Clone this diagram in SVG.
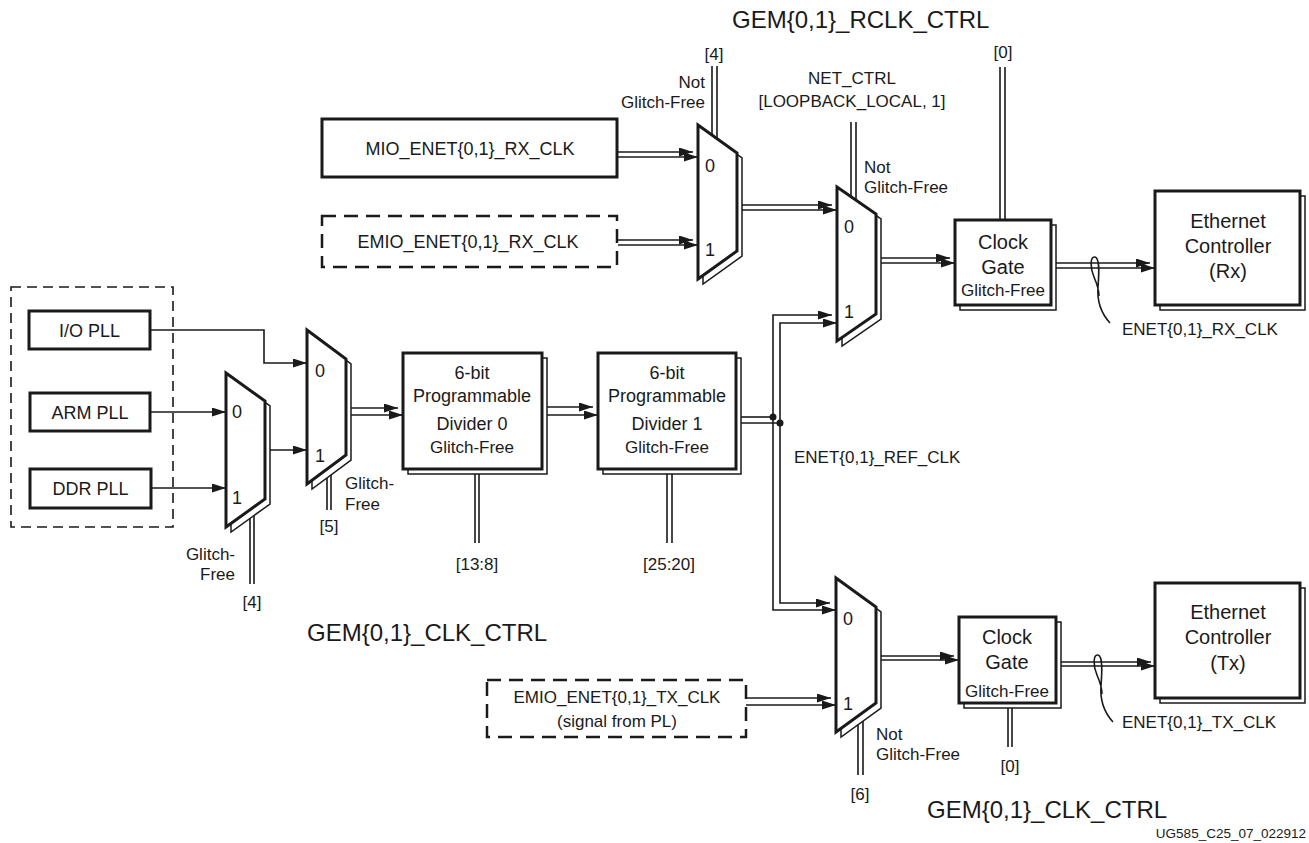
<svg xmlns="http://www.w3.org/2000/svg" width="1309" height="843" viewBox="0 0 1309 843">
<defs>
<marker id="ah" markerUnits="userSpaceOnUse" markerWidth="16" markerHeight="10" refX="14" refY="4.5" orient="auto"><path d="M0,0 L14,4.5 L0,9 z" fill="#1a1a1a"/></marker>
</defs>
<style>
.box{fill:#fff;stroke:#1a1a1a;stroke-width:3}
.sh{fill:#fff;stroke:#1a1a1a;stroke-width:1.5}
.dash{fill:none;stroke:#1a1a1a;stroke-width:2.5;stroke-dasharray:14 8}
.dash2{fill:none;stroke:#1a1a1a;stroke-width:1.6;stroke-dasharray:10 6}
.w{fill:none;stroke:#1a1a1a;stroke-width:1.6}
.wa{fill:none;stroke:#1a1a1a;stroke-width:1.6;marker-end:url(#ah)}
text{font-family:"Liberation Sans",Arial,sans-serif;fill:#1a1a1a}
.t18{font-size:18px}
.t17{font-size:17px}
.t20{font-size:20px}
.t24{font-size:24px}
.t13{font-size:13.5px}
.m{text-anchor:middle}
.e{text-anchor:end}
</style>
<rect width="1309" height="843" fill="#fff"/>

<g id="connectors">
  <!-- PLL inputs -->
  <path class="wa" d="M150,330 H264 V363 H307"/>
  <path class="wa" d="M150,412 H226"/>
  <path class="wa" d="M151,488 H226"/>
  <path class="wa" d="M270,450 H307"/>
  <path class="wa" d="M351,408 H398"/>
  <path class="wa" d="M351,415 H403"/>
  <path class="wa" d="M547,407 H593"/>
  <path class="wa" d="M547,415 H598"/>
  <path class="w" d="M741,417 H773"/>
  <path class="w" d="M741,423 H780"/>
  <path class="wa" d="M773,417 V315 H832"/>
  <path class="wa" d="M780,423 V323 H837"/>
  <path class="wa" d="M780,423 V603 H830"/>
  <path class="wa" d="M773,417 V610 H836"/>
  <circle cx="773" cy="417" r="3.5" fill="#1a1a1a"/>
  <circle cx="780" cy="423" r="3.5" fill="#1a1a1a"/>
  <!-- RX path -->
  <path class="wa" d="M618,152 H693"/>
  <path class="wa" d="M618,157 H698"/>
  <path class="wa" d="M618,240 H693"/>
  <path class="wa" d="M618,245 H698"/>
  <path class="wa" d="M742,205 H832"/>
  <path class="wa" d="M742,210 H837"/>
  <path class="wa" d="M880,258 H950"/>
  <path class="wa" d="M880,263 H955"/>
  <path class="wa" d="M1056,263 H1150"/>
  <path class="wa" d="M1056,268 H1155"/>
  <!-- TX path -->
  <path class="wa" d="M746,698 H831"/>
  <path class="wa" d="M746,705 H836"/>
  <path class="wa" d="M881,656 H954"/>
  <path class="wa" d="M881,660 H959"/>
  <path class="wa" d="M1061,662 H1151"/>
  <path class="wa" d="M1061,666 H1155"/>
  <!-- control buses -->
  <path class="w" d="M712,66 V150 M717,66 V150"/>
  <path class="w" d="M851,122 V210 M856,122 V210"/>
  <path class="w" d="M1000,67 V240 M1005,67 V240"/>
  <path class="w" d="M250,480 V584 M254,480 V584"/>
  <path class="w" d="M327,450 V510 M331,450 V510"/>
  <path class="w" d="M475,460 V543 M479,460 V543"/>
  <path class="w" d="M667,460 V543 M672,460 V543"/>
  <path class="w" d="M858,700 V775 M863,700 V775"/>
  <path class="w" d="M1008,690 V747 M1012,690 V747"/>
  <!-- bus twist loops -->
  <path class="w" d="M1110,323 C1100,312 1097,300 1098,287 C1099,274 1100,258 1095,257 C1090,256 1090,268 1094,277 C1097,284 1099,290 1099,296"/>
  <path class="w" d="M1113,722 C1103,711 1100,699 1101,686 C1102,673 1103,656 1098,655 C1093,654 1093,666 1097,675 C1100,682 1102,688 1102,694"/>
</g>

<g id="pll-group"><rect class="dash2" x="11" y="287" width="162" height="240"/></g>
<g id="io-pll"><rect class="box" x="29" y="311" width="121" height="38"/><text class="t18 m" x="89.5" y="336.5">I/O PLL</text></g>
<g id="arm-pll"><rect class="box" x="30" y="393" width="120" height="38"/><text class="t18 m" x="90" y="418.5">ARM PLL</text></g>
<g id="ddr-pll"><rect class="box" x="30" y="469" width="121" height="39"/><text class="t18 m" x="90.5" y="495">DDR PLL</text></g>

<g id="mux-a">
  <polygon class="sh" points="231,378 270,406 270,504 231,532"/>
  <polygon class="box" points="226,373 265,401 265,499 226,527"/>
  <text class="t18" x="232" y="418">0</text><text class="t18" x="232" y="504">1</text>
  <text class="t17 e" x="235" y="560">Glitch-</text><text class="t17 e" x="235" y="580">Free</text>
  <text class="t17 m" x="252" y="608">[4]</text>
</g>
<g id="mux-b">
  <polygon class="sh" points="312,335 351,364 351,460 312,489"/>
  <polygon class="box" points="307,330 346,359 346,455 307,484"/>
  <text class="t18" x="315" y="377">0</text><text class="t18" x="315" y="462">1</text>
  <text class="t17" x="345" y="489">Glitch-</text><text class="t17" x="345" y="510">Free</text>
  <text class="t17 m" x="329" y="532">[5]</text>
</g>
<g id="divider0">
  <rect class="sh" x="408" y="358" width="139" height="116"/>
  <rect class="box" x="403" y="353" width="139" height="116"/>
  <text class="t18 m" x="472" y="379">6-bit</text>
  <text class="t18 m" x="472" y="402">Programmable</text>
  <text class="t18 m" x="472" y="430">Divider 0</text>
  <text class="t17 m" x="472" y="453">Glitch-Free</text>
  <text class="t17 m" x="477" y="570">[13:8]</text>
</g>
<g id="divider1">
  <rect class="sh" x="603" y="358" width="138" height="116"/>
  <rect class="box" x="598" y="353" width="138" height="116"/>
  <text class="t18 m" x="667" y="379">6-bit</text>
  <text class="t18 m" x="667" y="402">Programmable</text>
  <text class="t18 m" x="667" y="430">Divider 1</text>
  <text class="t17 m" x="667" y="453">Glitch-Free</text>
  <text class="t17 m" x="669" y="570">[25:20]</text>
</g>

<g id="mio-rx"><rect class="box" x="322" y="119" width="295" height="58"/><text class="t18 m" x="470" y="155">MIO_ENET{0,1}_RX_CLK</text></g>
<g id="emio-rx"><rect class="dash" x="322" y="216" width="295" height="51"/><text class="t18 m" x="468" y="248">EMIO_ENET{0,1}_RX_CLK</text></g>

<g id="mux-rx1">
  <polygon class="sh" points="703,130 742,158 742,256 703,284"/>
  <polygon class="box" points="698,125 737,153 737,251 698,279"/>
  <text class="t18" x="705" y="172">0</text><text class="t18" x="705" y="256">1</text>
  <text class="t17 m" x="714" y="60">[4]</text>
  <text class="t17 e" x="705" y="88">Not</text><text class="t17 e" x="705" y="108">Glitch-Free</text>
</g>
<g id="mux-rx2">
  <polygon class="sh" points="842,192 881,219 881,319 842,346"/>
  <polygon class="box" points="837,187 876,214 876,314 837,341"/>
  <text class="t18" x="844" y="233">0</text><text class="t18" x="844" y="318">1</text>
  <text class="t17 m" x="852" y="84">NET_CTRL</text>
  <text class="t17 m" x="852" y="107">[LOOPBACK_LOCAL, 1]</text>
  <text class="t17" x="864" y="173">Not</text><text class="t17" x="864" y="193">Glitch-Free</text>
</g>
<g id="clock-gate-rx">
  <rect class="sh" x="960" y="225" width="96" height="85"/>
  <rect class="box" x="955" y="220" width="96" height="85"/>
  <text class="t20 m" x="1003" y="249">Clock</text>
  <text class="t20 m" x="1003" y="274">Gate</text>
  <text class="t17 m" x="1003" y="296">Glitch-Free</text>
  <text class="t17 m" x="1003" y="58">[0]</text>
</g>
<g id="eth-rx">
  <rect class="sh" x="1160" y="196" width="145" height="114"/>
  <rect class="box" x="1155" y="191" width="145" height="114"/>
  <text class="t20 m" x="1228" y="228">Ethernet</text>
  <text class="t20 m" x="1228" y="253">Controller</text>
  <text class="t20 m" x="1228" y="278">(Rx)</text>
  <text class="t17" x="1122" y="335">ENET{0,1}_RX_CLK</text>
</g>

<g id="emio-tx"><rect class="dash" x="487" y="680" width="259" height="57"/>
  <text class="t17 m" x="617" y="703">EMIO_ENET{0,1}_TX_CLK</text>
  <text class="t17 m" x="617" y="727">(signal from PL)</text></g>
<g id="mux-tx">
  <polygon class="sh" points="841,583 881,612 881,708 841,737"/>
  <polygon class="box" points="836,578 876,607 876,703 836,732"/>
  <text class="t18" x="843" y="625">0</text><text class="t18" x="843" y="710">1</text>
  <text class="t17" x="876" y="740">Not</text><text class="t17" x="876" y="760">Glitch-Free</text>
  <text class="t17 m" x="860" y="800">[6]</text>
</g>
<g id="clock-gate-tx">
  <rect class="sh" x="964" y="622" width="97" height="86"/>
  <rect class="box" x="959" y="617" width="97" height="86"/>
  <text class="t20 m" x="1007" y="644">Clock</text>
  <text class="t20 m" x="1007" y="669">Gate</text>
  <text class="t17 m" x="1007" y="697">Glitch-Free</text>
  <text class="t17 m" x="1010" y="772">[0]</text>
</g>
<g id="eth-tx">
  <rect class="sh" x="1160" y="588" width="145" height="115"/>
  <rect class="box" x="1155" y="583" width="145" height="115"/>
  <text class="t20 m" x="1228" y="619">Ethernet</text>
  <text class="t20 m" x="1228" y="644">Controller</text>
  <text class="t20 m" x="1228" y="670">(Tx)</text>
  <text class="t17" x="1122" y="728">ENET{0,1}_TX_CLK</text>
</g>

<g id="labels">
  <text class="t24" x="732" y="28">GEM{0,1}_RCLK_CTRL</text>
  <text class="t17" x="794" y="463">ENET{0,1}_REF_CLK</text>
  <text class="t24" x="307" y="641">GEM{0,1}_CLK_CTRL</text>
  <text class="t24" x="927" y="818">GEM{0,1}_CLK_CTRL</text>
  <text class="t13 e" x="1306" y="838">UG585_C25_07_022912</text>
</g>
</svg>
